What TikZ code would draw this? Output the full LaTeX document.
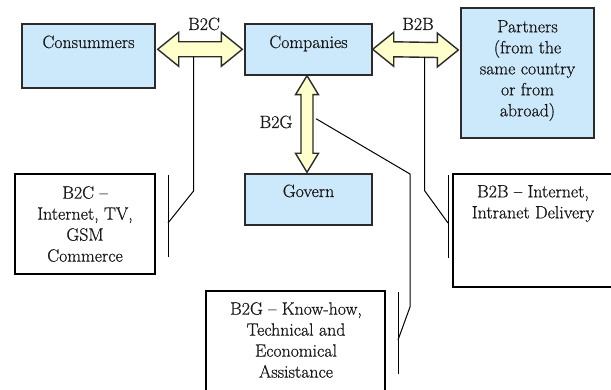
\documentclass[tikz,border=0pt]{standalone}
\usepackage{fontspec}
\newfontfamily\serifdiag[FakeBold=0.7]{Latin Modern Roman}
\usetikzlibrary{calc}
\definecolor{boxblue}{HTML}{CCE9FB}
\definecolor{arrowyellow}{HTML}{FFFFCC}
\definecolor{edgegray}{HTML}{2B2B2B}
\tikzset{
  bluebox/.style={draw=edgegray, line width=1.4pt, fill=boxblue, inner sep=0pt},
  callbox/.style={draw=black, line width=1.2pt, fill=white, inner sep=0pt},
  txt/.style={inner sep=0pt, align=center, font=\serifdiag\fontsize{17.8}{21}\selectfont, text=black!90},
  yarrow/.style={draw=edgegray, line width=1.4pt, fill=arrowyellow, line join=miter},
  callline/.style={draw=black, line width=1pt},
}
\begin{document}
\begin{tikzpicture}[x=1pt,y=-1pt]
\clip (0,0) rectangle (611,390);
\fill[white] (0,0) rectangle (611,390);

% main boxes
\node[bluebox, minimum width=133pt, minimum height=64pt] (cons) at (88.5,56) {};
\node[bluebox, minimum width=127pt, minimum height=51pt] (comp) at (308.5,49.5) {};
\node[bluebox, minimum width=133pt, minimum height=130pt] (part) at (527.5,73) {};
\node[bluebox, minimum width=127pt, minimum height=51pt] (gov) at (308.5,199.5) {};

% callout boxes
\node[callbox, minimum width=140pt, minimum height=100pt] (cbC) at (85,224) {};
\node[callbox, minimum width=162pt, minimum height=113pt] (cbB) at (534,230.5) {};
\node[callbox, minimum width=179pt, minimum height=102pt] (cbG) at (295.5,342) {};

% texts
\node[txt, anchor=base] (consT) at (88.5,48) {Consummers};
\node[txt, anchor=base] (compT) at (308.5,48) {Companies};
\node[txt, anchor=base] (govT) at (308.5,197) {Govern};
\node[txt, anchor=north] (partT) at (527.5,20) {Partners\\(from the\\same country\\or from\\abroad)};
\node[txt, anchor=north] (cbCT) at (85,186) {B2C –\\Internet, TV,\\GSM\\Commerce};
\node[txt, anchor=north] (cbBT) at (533,185) {B2B – Internet,\\Intranet Delivery};
\node[txt, anchor=north] (cbGT) at (296,302) {B2G – Know-how,\\Technical and\\Economical\\Assistance};

% arrow labels
\node[txt, anchor=base] (lC) at (204,30) {B2C};
\node[txt, anchor=base] (lB) at (418,30) {B2B};
\node[txt, anchor=base] (lG) at (276,128) {B2G};

% B2C double arrow
\coordinate (cL) at ($(cons.north east)+(2,26)$);
\coordinate (cR) at ($(comp.north west)+(-2,26)$);
\draw[yarrow] (cL) -- ++(21,-17) -- ++(0,9.5) -- ($(cR)+(-21,-7.5)$) -- ++(0,-9.5) -- (cR)
  -- ++(-21,17) -- ++(0,-9.5) -- ($(cL)+(21,7.5)$) -- ++(0,9.5) -- cycle;

% B2B double arrow
\coordinate (bL) at ($(comp.north east)+(0,26)$);
\coordinate (bR) at ($(part.west)+(-2,-23)$);
\draw[yarrow] (bL) -- ++(21,-17) -- ++(0,9.5) -- ($(bR)+(-21,-7.5)$) -- ++(0,-9.5) -- (bR)
  -- ++(-21,17) -- ++(0,-9.5) -- ($(bL)+(21,7.5)$) -- ++(0,9.5) -- cycle;

% B2G vertical double arrow
\coordinate (gT) at ($(comp.south)+(-1.5,0)$);
\coordinate (gB) at ($(gov.north)+(-1.5,-1)$);
\draw[yarrow] (gT) -- ++(11.5,19) -- ++(-5.5,0) -- ($(gB)+(6,-19)$) -- ++(5.5,0) -- (gB)
  -- ++(-11.5,-19) -- ++(5.5,0) -- ($(gT)+(-6,19)$) -- ++(-5.5,0) -- cycle;

% callout lines
\coordinate (c1) at ($(cL)+(36,7.5)$);
\draw[callline] (c1) -- ++(0,134) -- (168,223);
\draw[callline] (168,175) -- (168,257);

\coordinate (b1) at ($(bL)+(52,7.5)$);
\draw[callline] (b1) -- ++(0,134) -- (448,223);
\draw[callline] (448,175) -- (448,258);

\coordinate (g1) at ($(gT)+(9,43)$);
\draw[callline] (g1) -- (410,174) -- (410,307) -- (398,340);
\draw[callline] (398,292) -- (398,374);
\end{tikzpicture}
\end{document}
